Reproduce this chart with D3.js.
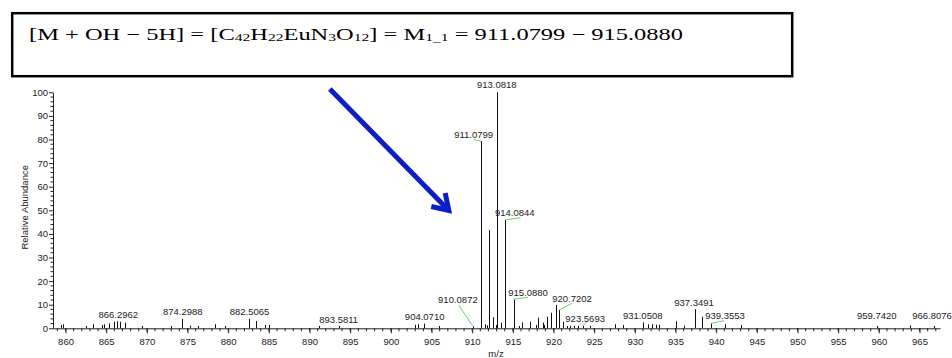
<!DOCTYPE html>
<html>
<head>
<meta charset="utf-8">
<script src="https://cdn.jsdelivr.net/npm/d3@7"></script>
<style>
  html, body { margin: 0; padding: 0; background: #fff; }
  svg { display: block; }
  .tick text { font-family: "Liberation Sans", Arial, sans-serif; font-size: 9.5px; fill: #222; }
</style>
</head>
<body>
<svg id="chart" width="952" height="358"></svg>
<script>
// Centroid m/z values of the spectrum peaks
const peakMz = [
  859.43, 859.64, 862.55, 863.36, 864.47, 864.68, 865.29, 865.91, 866.2962, 866.73,
  867.34, 869.39, 873.00, 874.2988, 875.34, 876.23, 878.33, 879.58, 882.5065, 883.45,
  884.48, 885.05, 891.20, 893.5811, 902.97, 903.38, 904.0710, 905.90, 910.0872, 911.0799,
  911.58, 911.79, 912.08, 912.60, 912.95, 913.0818, 913.50, 914.0844, 915.0880, 915.80,
  916.10, 917.10, 917.85, 918.13, 918.67, 918.83, 919.17, 919.66, 920.27, 920.7202,
  921.20, 921.60, 922.00, 922.50, 923.05, 923.5693, 924.50, 927.60, 928.50, 931.0508,
  931.60, 932.08, 932.57, 933.00, 935.00, 936.00, 937.3491, 938.22, 939.3553, 941.10,
  943.02, 959.7420, 963.80, 966.8076
];
// Relative abundance (%) of each peak
const peakAbundance = [
  1.4, 1.7, 1.0, 1.7, 1.4, 1.7, 2.1, 2.8, 3.0, 2.8,
  2.4, 1.0, 1.0, 4.0, 1.1, 1.0, 1.7, 1.0, 4.0, 3.1,
  1.4, 1.4, 1.0, 1.0, 1.5, 1.7, 2.0, 1.0, 0.8, 79.3,
  1.7, 1.3, 41.6, 4.7, 1.4, 100, 2.4, 45.9, 12.3, 1.0,
  2.5, 2.8, 1.4, 4.5, 2.4, 1.4, 4.9, 6.6, 9.9, 7.8,
  2.8, 1.0, 1.1, 1.1, 1.1, 1.0, 1.1, 1.7, 1.4, 2.5,
  1.7, 1.7, 1.5, 1.5, 3.0, 1.1, 8.1, 4.9, 2.1, 1.7,
  1.4, 1.0, 1.2, 1.0
];
// Peaks carrying an m/z label
const labelledMz = [
  866.2962, 874.2988, 882.5065, 893.5811, 904.0710, 910.0872, 911.0799, 913.0818,
  914.0844, 915.0880, 920.7202, 923.5693, 931.0508, 937.3491, 939.3553, 959.7420, 966.8076
];
// Axis ticks
const xTicks = [860, 865, 870, 875, 880, 885, 890, 895, 900, 905, 910, 915, 920, 925, 930, 935, 940, 945, 950, 955, 960, 965];
const yTicks = [0, 10, 20, 30, 40, 50, 60, 70, 80, 90, 100];

const formulaParts = [
  ["[M + OH \u2212 5H] = [C", false], ["42", true], ["H", false], ["22", true],
  ["EuN", false], ["3", true], ["O", false], ["12", true], ["] = M", false],
  ["1_1", true], [" = 911.0799 \u2212 915.0880", false]
];

// Label placement relative to the peak top (px), and leader end relative to the label anchor
const labelLayout = {
  866.2962: { dx: 1.5, dy: -3 },
  874.2988: { dx: 1, dy: -3.8 },
  882.5065: { dx: 1, dy: -3.8 },
  893.5811: { dx: 0, dy: -3.2 },
  904.0710: { dx: 0.7, dy: -3.5 },
  910.0872: { dx: -15, dy: -23, leader: [0.8, 1.6] },
  911.0799: { dx: -7.3, dy: -3.6, leader: [0, 2] },
  913.0818: { dx: -0.5, dy: -3.9 },
  914.0844: { dx: 9.4, dy: -3.6, leader: [5.7, 1.3] },
  915.0880: { dx: 14.4, dy: -3.3, leader: [0, 1.3] },
  920.7202: { dx: 12.6, dy: -7.5, leader: [0, 1] },
  923.5693: { dx: 2.6, dy: -4.2, leader: [1.3, 0.6] },
  931.0508: { dx: -0.7, dy: -3 },
  937.3491: { dx: -0.6, dy: -3.1 },
  939.3553: { dx: 14.1, dy: -3.9, leader: [-1, 1.3] },
  959.7420: { dx: 0, dy: -6.5 },
  966.8076: { dx: -2.2, dy: -6.5 }
};

// Blue arrow in data coordinates: [m/z, abundance]
const arrowFrom = [892.5, 101.4];
const arrowTo = [907.3, 49.3];

const svg = d3.select("#chart");
const font = '"Liberation Sans", Arial, sans-serif';

const x = d3.scaleLinear().domain([858.46, 967.52]).range([53, 940]);
const y = d3.scaleLinear().domain([0, 100]).range([328.3, 92.3]);

// Formula box
svg.append("rect")
  .attr("x", 12.2).attr("y", 13.2).attr("width", 780).attr("height", 63)
  .attr("fill", "none").attr("stroke", "#000").attr("stroke-width", 2.5);

const ft = svg.append("text")
  .attr("x", 29).attr("y", 39.5)
  .attr("font-family", '"Liberation Serif", "DejaVu Serif", serif')
  .attr("font-size", 16.5).attr("fill", "#000");
formulaParts.forEach(([t, sub], i) => {
  const ts = ft.append("tspan").text(t);
  if (sub) ts.attr("font-size", 10.5).attr("dy", 1.5);
  else if (i > 0) ts.attr("dy", -1.5);
});
ft.attr("textLength", 654).attr("lengthAdjust", "spacingAndGlyphs");

// Peaks
const peaks = peakMz.map((m, i) => ({ mz: m, ab: peakAbundance[i] }));
svg.append("g").selectAll("line").data(peaks).join("line")
  .attr("x1", d => Math.round(x(d.mz)) + 0.5).attr("x2", d => Math.round(x(d.mz)) + 0.5)
  .attr("y1", y(0)).attr("y2", d => y(d.ab))
  .attr("stroke", "#111").attr("stroke-width", 1);

// Axes
const xAxis = svg.append("g").attr("transform", `translate(0,${y(0)})`)
  .call(d3.axisBottom(x).tickValues(xTicks).tickFormat(d3.format("d")).tickSize(5).tickPadding(5).tickSizeOuter(0));
xAxis.select(".domain").attr("stroke", "#222");
xAxis.selectAll(".tick line").attr("stroke", "#222");
xAxis.selectAll(".minor").data(d3.range(859, 968)).join("line")
  .attr("class", "minor")
  .attr("x1", d => x(d)).attr("x2", d => x(d)).attr("y1", 0).attr("y2", 3)
  .attr("stroke", "#222");

const yAxis = svg.append("g").attr("transform", `translate(${x.range()[0]},0)`)
  .call(d3.axisLeft(y).tickValues(yTicks).tickSize(4).tickPadding(1).tickSizeOuter(0));
yAxis.select(".domain").attr("stroke", "#222");
yAxis.selectAll(".tick line").attr("stroke", "#222");
yAxis.selectAll(".minor").data(d3.range(0, 101, 2).filter(v => v % 10 !== 0)).join("line")
  .attr("class", "minor")
  .attr("x1", 0).attr("x2", -2.5).attr("y1", d => y(d)).attr("y2", d => y(d))
  .attr("stroke", "#222");

// Axis titles
svg.append("text")
  .attr("transform", `translate(28,${(y(0) + y(100)) / 2 - 3}) rotate(-90)`)
  .attr("text-anchor", "middle").attr("font-family", font).attr("font-size", 9.5).attr("fill", "#222")
  .text("Relative Abundance");
svg.append("text")
  .attr("x", (x(913) + x(913.1)) / 2 - 1).attr("y", 356.5)
  .attr("text-anchor", "middle").attr("font-family", font).attr("font-size", 9.5).attr("fill", "#222")
  .text("m/z");

// Peak labels with leaders
const labelled = labelledMz.map(m => {
  const i = peakMz.indexOf(m);
  const lay = labelLayout[m];
  const px = x(m), py = y(peakAbundance[i]);
  return { m, px, py, lx: px + lay.dx, ly: py + lay.dy, leader: lay.leader };
});
svg.append("g").selectAll("line").data(labelled.filter(d => d.leader)).join("line")
  .attr("x1", d => d.px).attr("y1", d => d.py)
  .attr("x2", d => d.lx + d.leader[0]).attr("y2", d => d.ly + d.leader[1])
  .attr("stroke", "#6fcf6f").attr("stroke-width", 1);
svg.append("g").selectAll("text").data(labelled).join("text")
  .attr("x", d => d.lx).attr("y", d => d.ly)
  .attr("text-anchor", "middle").attr("font-family", font).attr("font-size", 9.5).attr("fill", "#222")
  .text(d => d.m.toFixed(4));

// Arrow pointing at the isotope cluster
const ax0 = x(arrowFrom[0]), ay0 = y(arrowFrom[1]);
const ax1 = x(arrowTo[0]), ay1 = y(arrowTo[1]);
const ang = Math.atan2(ay1 - ay0, ax1 - ax0);
const head = 18, spread = Math.PI / 5.5;
const tipX = ax1 - 2 * Math.cos(ang), tipY = ay1 - 2 * Math.sin(ang);
svg.append("line")
  .attr("x1", ax0).attr("y1", ay0).attr("x2", tipX).attr("y2", tipY)
  .attr("stroke", "#0a1ec8").attr("stroke-width", 5);
svg.append("path")
  .attr("d", d3.line()([
    [tipX - head * Math.cos(ang - spread), tipY - head * Math.sin(ang - spread)],
    [tipX, tipY],
    [tipX - head * Math.cos(ang + spread), tipY - head * Math.sin(ang + spread)]
  ]))
  .attr("fill", "none").attr("stroke", "#0a1ec8").attr("stroke-width", 5)
  .attr("stroke-linejoin", "miter");
</script>
</body>
</html>
